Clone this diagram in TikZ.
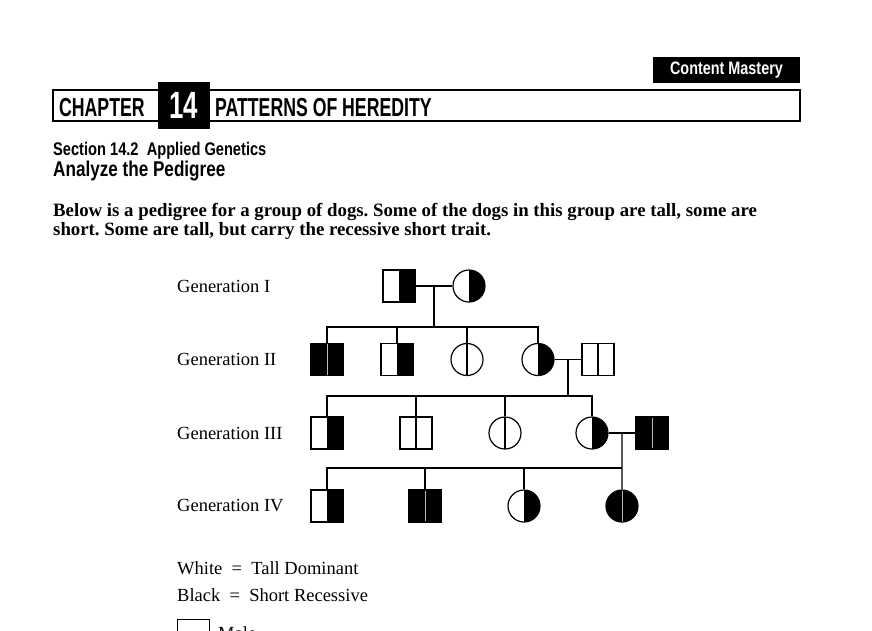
\documentclass[tikz,border=0pt]{standalone}
\usepackage{fontspec}
\setmainfont{Liberation Serif}
\newfontfamily\capsfont[FakeStretch=0.68]{Liberation Sans}
\newfontfamily\headfont[FakeStretch=0.8]{Liberation Sans}
\usetikzlibrary{positioning,calc}
\frenchspacing
\tikzset{
    malebox/.style={
        rectangle,draw,line width=1.2pt,minimum size=32pt,inner sep=0pt
    },
    femalecirc/.style={
        circle,draw,line width=1.2pt,minimum size=32pt,inner sep=0pt
    },
    tall/.style={
        path picture={\draw[line width=1.2pt] (path picture bounding box.north)
        -- (path picture bounding box.south);}
    },
    carrier/.style={
        path picture={\fill (path picture bounding box.north)
        rectangle (path picture bounding box.south east);}
    },
    shortrec/.style={
        fill=black,
        path picture={\draw[gray!55,line width=1pt] (path picture bounding box.north)
        -- (path picture bounding box.south);}
    },
    genlabel/.style={anchor=west,inner sep=0pt,font=\fontsize{18.5}{20}\selectfont},
    keytext/.style={anchor=base west,inner sep=0pt,font=\fontsize{18.5}{20}\selectfont},
    link/.style={line width=1.2pt}
}

\begin{document}
\begin{tikzpicture}[x=1pt,y=-1pt]
\clip (0,0) rectangle (872,630);

% header
\node[fill=black,text=white,minimum width=147pt,minimum height=26pt,inner sep=0pt,
font=\headfont\bfseries\fontsize{18}{20}\selectfont] (mastery) at (726.5,70) {Content Mastery};
\node[draw,line width=1.2pt,minimum width=747pt,minimum height=31pt,inner sep=0pt] (chapframe) at (426.5,105.5) {};
\node[fill=black,text=white,minimum width=52pt,minimum height=47pt,inner sep=0pt,
font=\capsfont\bfseries\fontsize{38}{40}\selectfont] (chapnum) at (184,105.5) {14};
\node[anchor=base west,inner sep=0pt,font=\capsfont\bfseries\fontsize{26}{28}\selectfont] (chapword) at (59,116) {CHAPTER};
\node[anchor=base west,inner sep=0pt,font=\capsfont\bfseries\fontsize{26}{28}\selectfont] (chaptitle) at (215,116) {PATTERNS OF HEREDITY};

\node[anchor=base west,inner sep=0pt,font=\headfont\bfseries\fontsize{18.3}{20}\selectfont] (section) at (53,155) {Section 14.2\ \ Applied Genetics};
\node[anchor=base west,inner sep=0pt,font=\headfont\bfseries\fontsize{21.4}{23}\selectfont] (activity) at (53,176) {Analyze the Pedigree};

\node[anchor=base west,inner sep=0pt,font=\bfseries\fontsize{18.8}{20}\selectfont] (intro1) at (53,216)
{Below is a pedigree for a group of dogs. Some of the dogs in this group are tall, some are};
\node[anchor=base west,inner sep=0pt,font=\bfseries\fontsize{18.8}{20}\selectfont] (intro2) at (53,235)
{short. Some are tall, but carry the recessive short trait.};

% generation labels
\node[genlabel] (lab1) at (177,286) {Generation I};
\node[genlabel] (lab2) at (177,359.5) {Generation II};
\node[genlabel] (lab3) at (177,433) {Generation III};
\node[genlabel] (lab4) at (177,506) {Generation IV};

% generation I
\node[malebox,carrier] (i1) at (399,286) {};
\node[femalecirc,carrier] (i2) at (469,286) {};
\draw[link] (i1) -- (i2);
\coordinate (i12) at ($(i1.east)!0.5!(i2.west)$);

% generation II
\coordinate (iibar) at (0,327);
\node[malebox,shortrec] (ii1) at (327,359.5) {};
\node[malebox,carrier] (ii2) at (397,359.5) {};
\node[femalecirc,tall] (ii3) at (467,359.5) {};
\node[femalecirc,carrier] (ii4) at (538,359.5) {};
\node[malebox,tall] (ii5) at (598,359.5) {};
\draw[link] (i12) -- (i12 |- iibar);
\draw[link] (ii1.north) -- (ii1.north |- iibar) -| (ii4.north);
\foreach \c in {ii2,ii3}
    \draw[link] (\c.north) -- (\c.north |- iibar);
\draw[link] (ii4) -- (ii5);
\coordinate (ii45) at ($(ii4.east)!0.5!(ii5.west)$);

% generation III
\coordinate (iiibar) at (0,396);
\node[malebox,carrier] (iii1) at (327,433) {};
\node[malebox,tall] (iii2) at (416,433) {};
\node[femalecirc,tall] (iii3) at (505,433) {};
\node[femalecirc,carrier] (iii4) at (592,433) {};
\node[malebox,shortrec] (iii5) at (652,433) {};
\draw[link] (ii45) -- (ii45 |- iiibar);
\draw[link] (iii1.north) -- (iii1.north |- iiibar) -| (iii4.north);
\foreach \c in {iii2,iii3}
    \draw[link] (\c.north) -- (\c.north |- iiibar);
\draw[link] (iii4) -- (iii5);
\coordinate (iii45) at ($(iii4.east)!0.5!(iii5.west)$);

% generation IV
\coordinate (ivbar) at (0,468);
\node[malebox,carrier] (iv1) at (327,506) {};
\node[malebox,shortrec] (iv2) at (425,506) {};
\node[femalecirc,carrier] (iv3) at (524,506) {};
\node[femalecirc,shortrec] (iv4) at (622,506) {};
\draw[link] (iii45) -- (iv4.north);
\draw[link] (iv1.north) -- (iv1.north |- ivbar) -- (iii45 |- ivbar);
\foreach \c in {iv2,iv3}
    \draw[link] (\c.north) -- (\c.north |- ivbar);

% key
\node[keytext] (keywhite) at (177,574) {White\enspace=\enspace Tall Dominant};
\node[keytext] (keyblack) at (177,601) {Black\enspace=\enspace Short Recessive};
\node[malebox] (keymale) at (193.5,635.5) {};
\node[keytext] (keymaletext) at (218,639) {Male};

\end{tikzpicture}
\end{document}
